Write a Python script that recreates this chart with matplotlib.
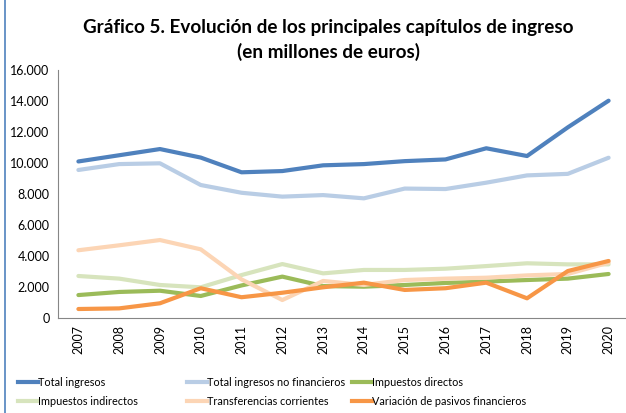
import matplotlib.pyplot as plt
from matplotlib.lines import Line2D
from matplotlib.ticker import FuncFormatter

years = ['2007', '2008', '2009', '2010', '2011', '2012', '2013',
         '2014', '2015', '2016', '2017', '2018', '2019', '2020']

total_ingresos = [10100, 10500, 10900, 10350, 9400, 9480, 9850,
                  9930, 10120, 10230, 10950, 10450, 12300, 14020]
total_no_financieros = [9550, 9930, 9980, 8580, 8080, 7830, 7930,
                        7720, 8350, 8320, 8730, 9200, 9300, 10340]
impuestos_directos = [1480, 1680, 1760, 1420, 2100, 2670, 2060,
                      2020, 2130, 2260, 2350, 2450, 2540, 2840]
impuestos_indirectos = [2710, 2540, 2130, 1980, 2770, 3480, 2880,
                        3100, 3100, 3180, 3350, 3530, 3460, 3460]
transferencias = [4370, 4690, 5030, 4430, 2490, 1160, 2390,
                  2130, 2450, 2540, 2600, 2750, 2840, 3570]
pasivos = [580, 620, 950, 1920, 1340, 1630, 1980,
           2280, 1810, 1920, 2280, 1270, 3030, 3680]

series = [
    ('Total ingresos', total_ingresos, '#4f81bd'),
    ('Total ingresos no financieros', total_no_financieros, '#b9cde5'),
    ('Impuestos directos', impuestos_directos, '#9bbb59'),
    ('Impuestos indirectos', impuestos_indirectos, '#d7e4bd'),
    ('Transferencias corrientes', transferencias, '#fcd5b5'),
    ('Variación de pasivos financieros', pasivos, '#f79646'),
]

plt.rcParams['font.family'] = ['Lato', 'DejaVu Sans']

fig = plt.figure(figsize=(6.26, 4.13), dpi=100)
ax = fig.add_axes([58 / 626, 1 - 318 / 413, 571 / 626, 248 / 413])

x = list(range(len(years)))
for name, values, color in series:
    ax.plot(x, values, color=color, linewidth=3, solid_capstyle='round')

ax.set_xlim(-0.5, len(years) - 0.5)
ax.set_ylim(0, 16000)
ax.set_yticks(range(0, 16001, 2000))
ax.yaxis.set_major_formatter(FuncFormatter(lambda v, p: f'{int(v):,}'.replace(',', '.')))
ax.set_xticks(x)
ax.set_xticklabels(years, rotation=90)
ax.tick_params(axis='both', labelsize=9, length=0, colors='black')
ax.tick_params(axis='x', pad=5)
ax.tick_params(axis='y', pad=6)

for side in ['top', 'right']:
    ax.spines[side].set_visible(False)
ax.spines['left'].set_color('#868686')
ax.spines['bottom'].set_color('#868686')

t1 = fig.text(0.525, 1 - 28 / 413, 'Gráfico 5. Evolución de los principales capítulos de ingreso',
              ha='center', va='center', fontsize=13, fontweight='bold')
t2 = fig.text(0.525, 1 - 52 / 413, '(en millones de euros)',
              ha='center', va='center', fontsize=13, fontweight='bold')

# size the title so its first line spans about 490 px
renderer = fig.canvas.get_renderer()
w = t1.get_window_extent(renderer).width
size = 13 * 490 / w
t1.set_fontsize(size)
t2.set_fontsize(size)

# legend laid out row by row in three fixed columns
col_x = [18, 187, 352]
for i, x0 in enumerate(col_x):
    pair = [series[i], series[i + 3]]
    handles = [Line2D([0], [0], color=c, linewidth=3) for _, _, c in pair]
    labels = [n for n, _, _ in pair]
    leg = fig.legend(handles, labels, loc='center left',
                     bbox_to_anchor=(x0 / 626, 1 - 392 / 413), frameon=False,
                     fontsize=7.8, handlelength=1.8, handletextpad=0.05,
                     labelspacing=0.7, borderpad=0, borderaxespad=0)

# chart border on the left edge
fig.add_artist(Line2D([5 / 626, 5 / 626], [0, 1], color='#4f81bd',
                      linewidth=1.2, transform=fig.transFigure))

fig.savefig('out.png', dpi=100)
